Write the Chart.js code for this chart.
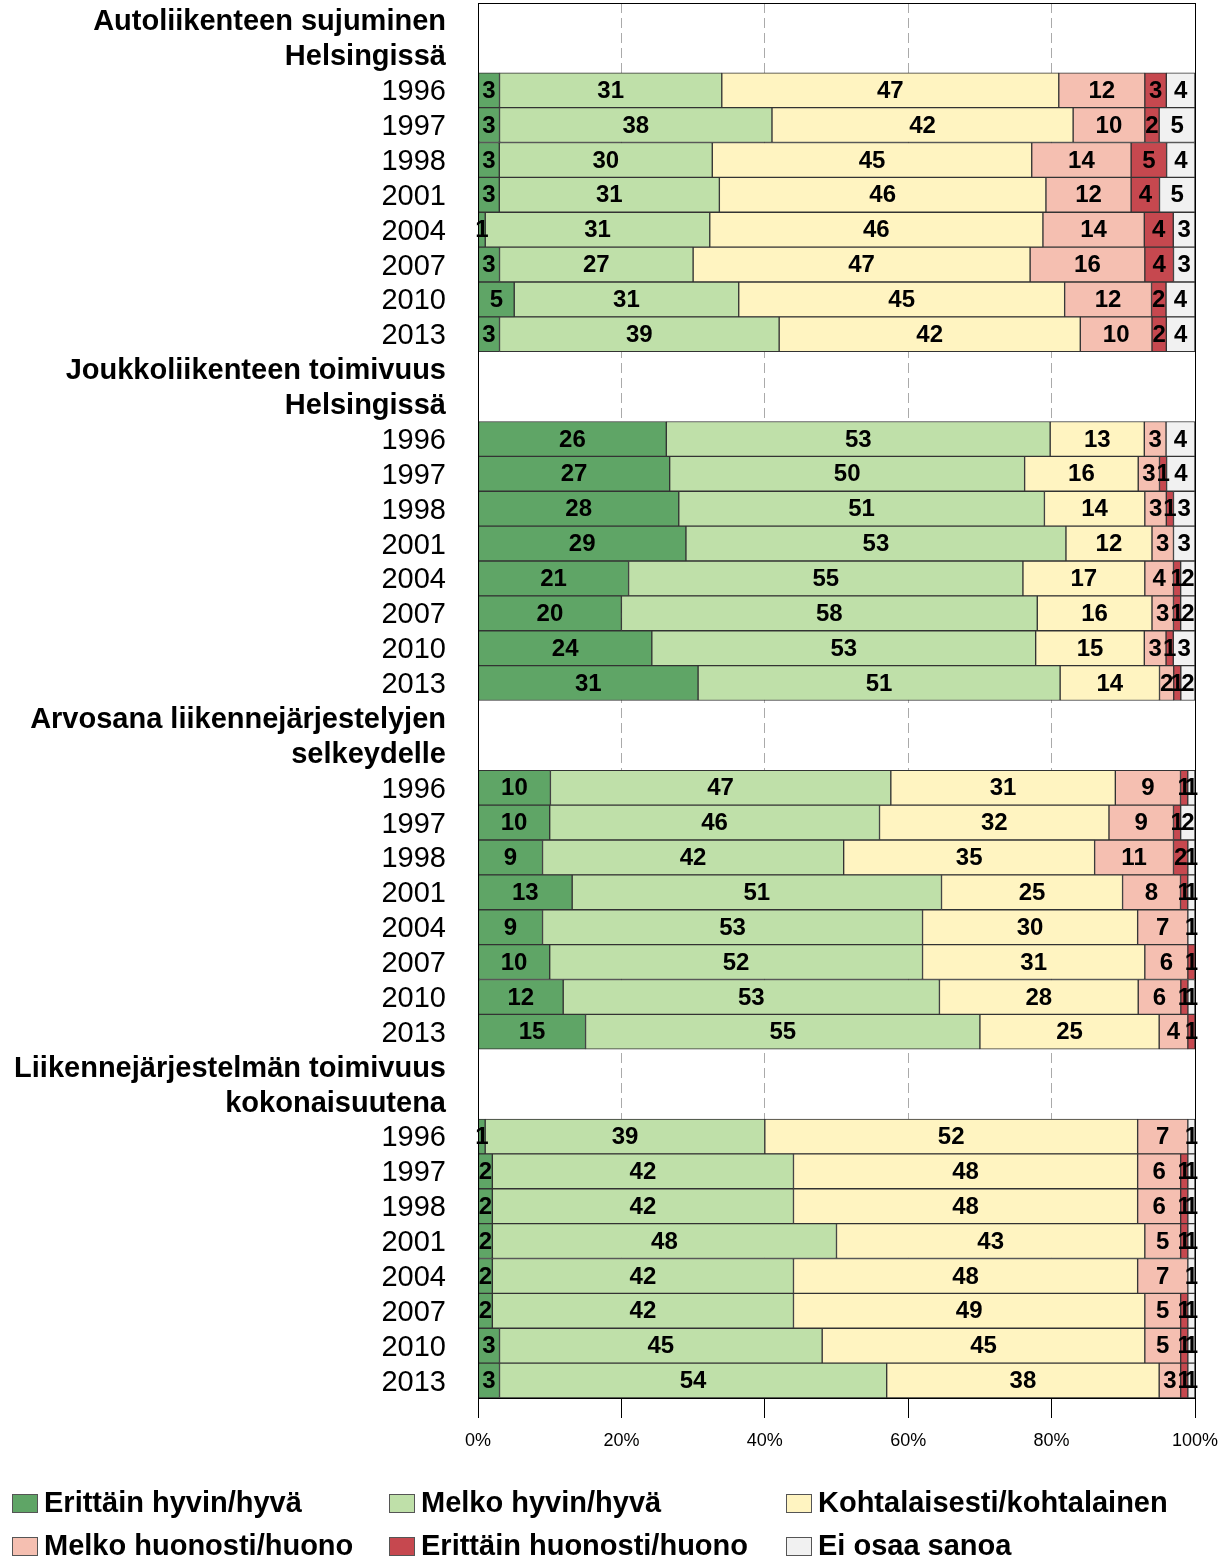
<!DOCTYPE html>
<html>
<head>
<meta charset="utf-8">
<title>Liikenne Helsingissä</title>
<script src="https://cdn.jsdelivr.net/npm/chart.js@4.4.1/dist/chart.umd.min.js"></script>
<style>
  html, body { margin: 0; padding: 0; background: #fff; }
  #wrap { position: relative; width: 1231px; height: 1562px; }
</style>
</head>
<body>
<div id="wrap"><canvas id="chart"></canvas></div>
<script>
// vuodet jokaisen kysymyksen alla
const years = ['1996', '1997', '1998', '2001', '2004', '2007', '2010', '2013'];

// kysymysten otsikot, kaksi riviä kukin
const groupTitles = [
  ['Autoliikenteen sujuminen', 'Helsingissä'],
  ['Joukkoliikenteen toimivuus', 'Helsingissä'],
  ['Arvosana liikennejärjestelyjen', 'selkeydelle'],
  ['Liikennejärjestelmän toimivuus', 'kokonaisuutena']
];

const seriesNames = [
  'Erittäin hyvin/hyvä',
  'Melko hyvin/hyvä',
  'Kohtalaisesti/kohtalainen',
  'Melko huonosti/huono',
  'Erittäin huonosti/huono',
  'Ei osaa sanoa'
];
const seriesColors = ['#5fa566', '#bfe0a9', '#fff4c1', '#f5bfb1', '#c6484f', '#f1f1f1'];

// prosentit: yksi rivi per kysymys, yksi arvo per vuosi
const erittainHyva = [
  [3, 3, 3, 3, 1, 3, 5, 3],
  [26, 27, 28, 29, 21, 20, 24, 31],
  [10, 10, 9, 13, 9, 10, 12, 15],
  [1, 2, 2, 2, 2, 2, 3, 3]
];
const melkoHyva = [
  [31, 38, 30, 31, 31, 27, 31, 39],
  [53, 50, 51, 53, 55, 58, 53, 51],
  [47, 46, 42, 51, 53, 52, 53, 55],
  [39, 42, 42, 48, 42, 42, 45, 54]
];
const kohtalainen = [
  [47, 42, 45, 46, 46, 47, 45, 42],
  [13, 16, 14, 12, 17, 16, 15, 14],
  [31, 32, 35, 25, 30, 31, 28, 25],
  [52, 48, 48, 43, 48, 49, 45, 38]
];
const melkoHuono = [
  [12, 10, 14, 12, 14, 16, 12, 10],
  [3, 3, 3, 3, 4, 3, 3, 2],
  [9, 9, 11, 8, 7, 6, 6, 4],
  [7, 6, 6, 5, 7, 5, 5, 3]
];
const erittainHuono = [
  [3, 2, 5, 4, 4, 4, 2, 2],
  [0, 1, 1, 0, 1, 1, 1, 1],
  [1, 1, 2, 1, 0, 1, 1, 1],
  [0, 1, 1, 1, 0, 1, 1, 1]
];
const eiOsaa = [
  [4, 5, 4, 5, 3, 3, 4, 4],
  [4, 4, 3, 3, 2, 2, 3, 2],
  [1, 2, 1, 1, 1, 0, 1, 0],
  [1, 1, 1, 1, 1, 1, 1, 1]
];

const xTicks = [0, 20, 40, 60, 80, 100];

const FONT = '"Liberation Sans", Arial, Helvetica, sans-serif';
const allSeries = [erittainHyva, melkoHyva, kohtalainen, melkoHuono, erittainHuono, eiOsaa];

// rivit: kaksi otsikkoriviä ja vuodet
const labels = [];
const isTitle = [];
groupTitles.forEach(t => {
  labels.push(t[0], t[1]);
  isTitle.push(true, true);
  years.forEach(y => { labels.push(y); isTitle.push(false); });
});

const datasets = allSeries.map((arr, s) => {
  const data = [];
  const raw = [];
  groupTitles.forEach((_, g) => {
    data.push(null, null);
    raw.push(null, null);
    years.forEach((_, i) => {
      const sum = allSeries.reduce((a, ser) => a + ser[g][i], 0);
      const v = arr[g][i];
      data.push(v > 0 ? v / sum * 100 : null);
      raw.push(v > 0 ? v : null);
    });
  });
  return {
    label: seriesNames[s],
    data: data,
    rawValues: raw,
    backgroundColor: seriesColors[s],
    borderColor: '#333',
    borderWidth: 1,
    borderSkipped: false,
    categoryPercentage: 1,
    barPercentage: 1
  };
});

// numerot palkkien keskelle
const segmentLabels = {
  id: 'segmentLabels',
  afterDatasetsDraw(chart) {
    const ctx = chart.ctx;
    ctx.save();
    ctx.font = 'bold 24px ' + FONT;
    ctx.fillStyle = '#000';
    ctx.textAlign = 'center';
    ctx.textBaseline = 'middle';
    chart.data.datasets.forEach((ds, di) => {
      chart.getDatasetMeta(di).data.forEach((bar, i) => {
        const v = ds.rawValues[i];
        if (!v) return;
        ctx.fillText(String(v), (bar.x + bar.base) / 2, bar.y + 1);
      });
    });
    ctx.restore();
  }
};

// kehys kuvaajan ympärille
const frame = {
  id: 'frame',
  afterDatasetsDraw(chart) {
    const a = chart.chartArea;
    const ctx = chart.ctx;
    ctx.save();
    ctx.strokeStyle = '#000';
    ctx.lineWidth = 1;
    ctx.strokeRect(Math.round(a.left) + 0.5, Math.round(a.top) + 0.5,
      Math.round(a.right - a.left), Math.round(a.bottom - a.top));
    ctx.restore();
  }
};

// selite kolmeen sarakkeeseen
const legendGrid = {
  id: 'legendGrid',
  afterDraw(chart) {
    const ctx = chart.ctx;
    const cols = [12, 389, 786];
    const rows = [1503, 1546];
    ctx.save();
    ctx.font = 'bold 29px ' + FONT;
    ctx.textBaseline = 'middle';
    ctx.textAlign = 'left';
    chart.data.datasets.forEach((ds, i) => {
      const x = cols[i % 3];
      const y = rows[Math.floor(i / 3)];
      ctx.fillStyle = ds.backgroundColor;
      ctx.fillRect(x, y - 9, 26, 19);
      ctx.strokeStyle = '#555';
      ctx.lineWidth = 1;
      ctx.strokeRect(x + 0.5, y - 8.5, 25, 18);
      ctx.fillStyle = '#000';
      ctx.fillText(ds.label, x + 32, y + 1);
    });
    ctx.restore();
  }
};

new Chart(document.getElementById('chart'), {
  type: 'bar',
  data: { labels: labels, datasets: datasets },
  plugins: [segmentLabels, frame, legendGrid],
  options: {
    indexAxis: 'y',
    responsive: true,
    maintainAspectRatio: false,
    animation: false,
    layout: { padding: { top: 3, right: 36, left: 0, bottom: 0 } },
    plugins: {
      legend: { display: false },
      tooltip: { enabled: false }
    },
    scales: {
      x: {
        stacked: true,
        min: 0,
        max: 100,
        afterFit: s => { s.height = 164; },
        afterBuildTicks: s => { s.ticks = xTicks.map(v => ({ value: v })); },
        ticks: {
          callback: v => v + '%',
          color: '#000',
          padding: 12,
          maxRotation: 0,
          font: { family: FONT, size: 18 }
        },
        grid: {
          color: '#aaa',
          lineWidth: 1,
          tickLength: 20,
          tickColor: '#000',
          tickBorderDash: []
        },
        border: { display: true, color: '#000', dash: [10, 5] }
      },
      y: {
        stacked: true,
        afterFit: s => {
          s.width = 478;
          s.paddingTop = 0;
          s.paddingBottom = 0;
        },
        grid: { display: false, drawTicks: false },
        border: { display: true, color: '#000' },
        ticks: {
          autoSkip: false,
          padding: 32,
          labelOffset: 2,
          color: '#000',
          font: c => isTitle[c.index]
            ? { family: FONT, size: 29, weight: 'bold' }
            : { family: FONT, size: 29 }
        }
      }
    }
  }
});
</script>
</body>
</html>
